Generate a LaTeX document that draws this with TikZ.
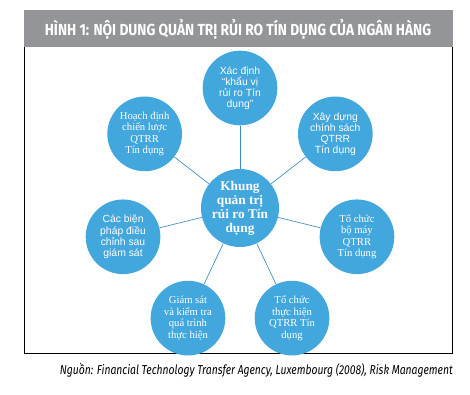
\documentclass[tikz,border=0pt]{standalone}
\usepackage{fontspec}
\setmainfont{Liberation Serif}
\setsansfont{Liberation Sans}
\newfontfamily\tieude[FakeStretch=0.86]{Fira Sans}
\newfontfamily\nguon[FakeStretch=0.8]{Fira Sans}
\definecolor{xam}{RGB}{147,149,152}
\definecolor{xanh}{RGB}{66,167,220}
\definecolor{day}{RGB}{62,140,196}

\begin{document}
\begin{tikzpicture}[x=0.75pt,y=0.75pt,
		vong/.style={circle,fill=xanh,text=white,minimum size=56pt,inner sep=0pt,align=center,font=\fontsize{8}{8.6}\selectfont},
		vongsf/.style={vong,font=\sffamily\fontsize{7.8}{8.3}\selectfont},
		noi/.style={day,line width=0.5pt}]
		\useasboundingbox (-240,-184) rectangle (230,210);
		% khung ngoai
		\fill[xam] (-216,163) rectangle (213,200);
		\node[text=white,font=\tieude\bfseries\fontsize{12}{13}\selectfont](tieude) at (-2,181) {HÌNH 1: NỘI DUNG QUẢN TRỊ RỦI RO TÍN DỤNG CỦA NGÂN HÀNG};
		\draw[line width=0.6pt] (-216,163) -- (-216,-143) -- (212.5,-143) -- (212.5,163);
		% cac vong tron
		\node[vong,font=\bfseries\fontsize{10}{10.5}\selectfont](khung) at (0,2) {Khung\\quản trị\\rủi ro Tín\\dụng};
		\node[vongsf](xacdinh) at (90:122) {Xác định\\“khẩu vị\\rủi ro Tín\\dụng”};
		\node[vongsf](xaydung) at (38.6:122) {Xây dựng\\chính sách\\QTRR\\Tín dụng};
		\node[vong](tochuc) at (-12.9:120) {Tổ chức\\bộ máy\\QTRR\\Tín dụng};
		\node[vong](thuchien) at (-64.3:120) {Tổ chức\\thực hiện\\QTRR Tín\\dụng};
		\node[vong](giamsat) at (-115.7:120) {Giám sát\\và kiểm tra\\quá trình\\thực hiện};
		\node[vongsf](bienphap) at (-167.1:120) {Các biện\\pháp điều\\chỉnh sau\\giám sát};
		\node[vong](hoachdinh) at (141.4:122) {Hoạch định\\chiến lược\\QTRR\\Tín dụng};
		\foreach \n in {xacdinh,xaydung,tochuc,thuchien,giamsat,bienphap,hoachdinh}
			\draw[noi] (khung) -- (\n);
		% nguon
		\node[anchor=east,font=\nguon\itshape\fontsize{9.7}{11}\selectfont,inner sep=0pt](nguon) at (213,-160) {Nguồn: Financial Technology Transfer Agency, Luxembourg (2008), Risk Management};
	\end{tikzpicture}
\end{document}
